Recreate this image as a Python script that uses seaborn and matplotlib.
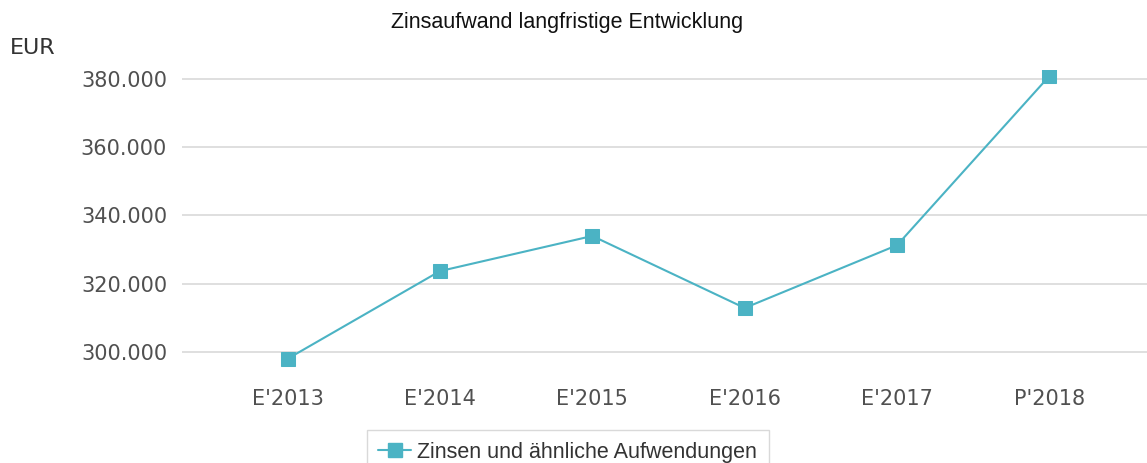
import numpy as np
import pandas as pd
import matplotlib.pyplot as plt
import seaborn as sb
from matplotlib.lines import Line2D

# Data
jahre = ["E'2013", "E'2014", "E'2015", "E'2016", "E'2017", "P'2018"]
zinsen = [298000, 323700, 334000, 312900, 331300, 380900]
serie = 'Zinsen und ähnliche Aufwendungen'

df = pd.DataFrame({'Jahr': jahre, 'Wert': zinsen, 'Serie': serie})

sb.set_style('white')
plt.rcParams['font.family'] = ['DejaVu Sans']

farbe = '#4bb3c4'

fig = plt.figure(figsize=(11.47, 4.63), dpi=100)
ax = fig.add_axes([0.159, 0.2029, 0.841, 0.6449])

sb.lineplot(data=df, x='Jahr', y='Wert', color=farbe,
            marker='s', markersize=10.5, markeredgecolor=farbe,
            linewidth=1.5, sort=False, legend=False, ax=ax)

yticks = [300000, 320000, 340000, 360000, 380000]
ax.set_xlim(-0.69, 5.64)
ax.set_ylim(295000, 382500)
ax.set_yticks(yticks)
ax.set_yticklabels([f'{v:,}'.replace(',', '.') for v in yticks])
ax.grid(axis='y', color='#d9d9d9', linewidth=1.2)
ax.tick_params(axis='both', length=0, labelsize=15, labelcolor='#505050')
ax.tick_params(axis='x', pad=14)
ax.tick_params(axis='y', pad=11)
for s in ax.spines.values():
    s.set_visible(False)
ax.set_xlabel('')
ax.set_ylabel('')

fig.text(0.494, 0.952, 'Zinsaufwand langfristige Entwicklung', ha='center', va='center',
         fontsize=15.5, family='Liberation Sans', color='#111111')
fig.text(0.009, 0.897, 'EUR', ha='left', va='center', fontsize=16, color='#333333')

handle = Line2D([], [], color=farbe, linewidth=1.5, marker='s', markersize=10,
                markeredgecolor=farbe)
leg = fig.legend([handle], [serie], loc='upper center', bbox_to_anchor=(0.495, 0.071),
                 frameon=True, fancybox=False, edgecolor='#d0d0d0',
                 prop={'family': 'Liberation Sans', 'size': 15.5},
                 handlelength=1.5, handletextpad=0.3, borderpad=0.55, borderaxespad=0)
leg.get_frame().set_linewidth(1)
for t in leg.get_texts():
    t.set_color('#333333')

plt.savefig('out.png', dpi=100)
